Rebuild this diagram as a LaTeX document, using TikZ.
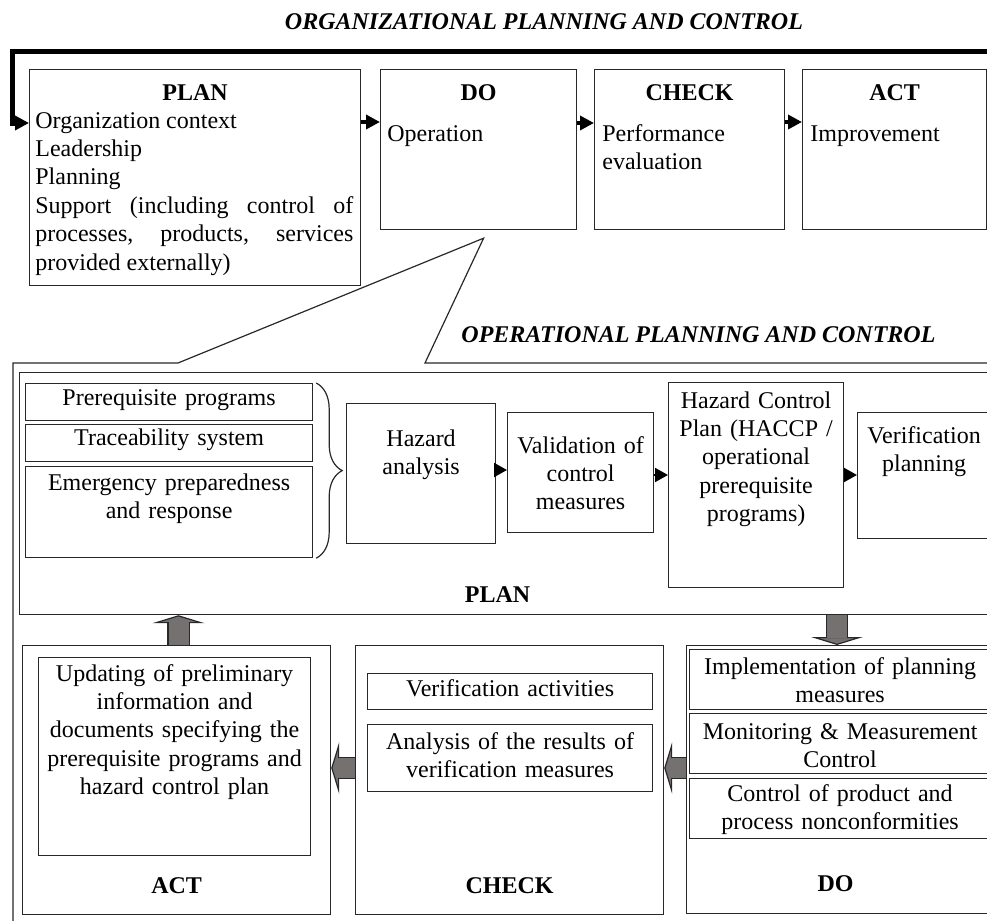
\documentclass[tikz,border=0pt]{standalone}
\usepackage{fontspec}
\setmainfont{Liberation Serif}
\usetikzlibrary{arrows.meta,decorations.pathreplacing}
\definecolor{arrowgray}{RGB}{118,113,113}
\definecolor{edgegray}{RGB}{40,40,40}

\begin{document}
\begin{tikzpicture}[x=0.5pt, y=-0.5pt,
    font=\fontsize{12}{14.2}\selectfont,
    box/.style={draw=edgegray, line width=0.6pt, anchor=north west, inner sep=0pt},
    txt/.style={anchor=base, align=center, text width=170pt, inner sep=0pt},
    lefttxt/.style={anchor=base west, align=left, text width=100pt, inner sep=0pt},
    head/.style={anchor=base, inner sep=0pt, font=\fontsize{12}{14.2}\selectfont\bfseries},
    bigtitle/.style={anchor=base, inner sep=0pt, font=\fontsize{12}{14.2}\selectfont\bfseries\itshape},
    line/.style={draw, line width=2pt, -{Triangle[length=7pt,width=7pt]}},
    thinline/.style={draw, line width=1pt, -{Triangle[length=6.5pt,width=7pt]}},
    loopline/.style={draw, line width=2.5pt, -{Triangle[length=7pt,width=7pt]}},
    zoomframe/.style={draw=edgegray, line width=0.6pt},
    curly/.style={draw=edgegray, line width=0.6pt, decorate, decoration={brace, amplitude=13pt}},
    bigarrow/.style={draw=arrowgray, line width=10pt,
        -{Triangle[length=4pt,width=26pt,line width=0.6pt,color=edgegray,fill=arrowgray]},
        preaction={draw=edgegray, line width=11.2pt, -, shorten >=4pt},
        postaction={draw=arrowgray, line width=10pt, -, shorten >=3.6pt}}]

    \useasboundingbox (0,0) rectangle (987,921);
    \clip (0,0) rectangle (987,921);

    % organizational level
    \node [bigtitle] (orgtitle) at (544,30) {ORGANIZATIONAL PLANNING AND CONTROL};
    \node [box, minimum width=165.5pt, minimum height=108pt] (plan) at (29,69) {};
    \node [box, minimum width=98pt, minimum height=80pt] (do) at (380,69) {};
    \node [box, minimum width=95pt, minimum height=80pt] (check) at (594,69) {};
    \node [box, minimum width=92pt, minimum height=80pt] (act) at (802,69) {};

    \node [head] at ([yshift=-15.5pt]plan.north) {PLAN};
    \node [head] at ([yshift=-15.5pt]do.north) {DO};
    \node [head] at ([yshift=-15.5pt]check.north) {CHECK};
    \node [head] at ([yshift=-15.5pt]act.north) {ACT};
    \node [lefttxt, text width=159pt, align=justify] at ([xshift=3pt,yshift=-29.5pt]plan.north west)
        {Organization context\\Leadership\\Planning\\Support (including control of\linebreak processes, products, services\linebreak provided externally)};
    \node [lefttxt] at ([xshift=3.5pt,yshift=-36pt]do.north west) {Operation};
    \node [lefttxt] at ([xshift=4pt,yshift=-36pt]check.north west) {Performance\\evaluation};
    \node [lefttxt] at ([xshift=4pt,yshift=-36pt]act.north west) {Improvement};

    \path [line] (plan.east |- 0,122) -- (do.west |- 0,122);
    \path [line] (do.east |- 0,123) -- (check.west |- 0,123);
    \path [line] (check.east |- 0,122) -- (act.west |- 0,122);
    \path [loopline] (act.east |- 0,122) -- (1000,122) |- (12.5,51) |- (plan.west |- 0,123);

    % operational level
    \node [bigtitle] (optitle) at (698.5,342) {OPERATIONAL PLANNING AND CONTROL};
    \coordinate (zoomtip) at ([xshift=2.5pt,yshift=-4pt]do.south);
    \draw [zoomframe] (zoomtip) -- (425,363) -- (1000,363) -- (1000,940) -- (13,940) -- (13,363) -- (178,363) -- cycle;
    \node [box, minimum width=488pt, minimum height=121pt] (planarea) at (19,372) {};

    \node [box, minimum width=143.5pt, minimum height=18.5pt] (prereq) at (25,383) {};
    \node [box, minimum width=143.5pt, minimum height=18.5pt] (trace) at (25,424) {};
    \node [box, minimum width=143.5pt, minimum height=45.5pt] (emerg) at (25,466) {};
    \node [box, minimum width=74.5pt, minimum height=70pt] (hazard) at (346,403) {};
    \node [box, minimum width=73pt, minimum height=60pt] (valid) at (507,412) {};
    \node [box, minimum width=87.5pt, minimum height=102.5pt] (hcp) at (668,382) {};
    \node [box, minimum width=66.5pt, minimum height=63pt] (verplan) at (857,412) {};

    \node [txt] at ([yshift=-11pt]prereq.north) {Prerequisite programs};
    \node [txt] at ([yshift=-10.5pt]trace.north) {Traceability system};
    \node [txt] at ([yshift=-12pt]emerg.north) {Emergency preparedness\\and response};
    \node [txt] at ([yshift=-21.5pt]hazard.north) {Hazard\\analysis};
    \node [txt] at ([yshift=-20.5pt]valid.north) {Validation of\\control\\measures};
    \node [txt] at ([yshift=-13pt]hcp.north) {Hazard Control\\Plan (HACCP /\\operational\\prerequisite\\programs)};
    \node [txt] at ([yshift=-15.5pt]verplan.north) {Verification\\planning};
    \node [head] at ([xshift=-5pt,yshift=6.5pt]planarea.south) {PLAN};

    \draw [curly] ([xshift=1.5pt]prereq.north east) -- ([xshift=1.5pt]emerg.south east);
    \path [thinline] (hazard.east |- 0,470) -- (valid.west |- 0,470);
    \path [thinline] (valid.east |- 0,475) -- (hcp.west |- 0,475);
    \path [thinline] (hcp.east |- 0,475) -- (verplan.west |- 0,475);

    \node [box, minimum width=154pt, minimum height=134.5pt] (actbox) at (22,645) {};
    \node [box, minimum width=136pt, minimum height=99pt] (actin) at (38,657) {};
    \node [box, minimum width=154pt, minimum height=134.5pt] (checkbox) at (355,645) {};
    \node [box, minimum width=142.5pt, minimum height=18pt] (verif) at (367,673) {};
    \node [box, minimum width=142.5pt, minimum height=33.5pt] (results) at (367,724) {};
    \node [box, minimum width=152pt, minimum height=134pt] (dobox) at (686,645) {};
    \node [box, minimum width=150.5pt, minimum height=30pt] (impl) at (689,649) {};
    \node [box, minimum width=150.5pt, minimum height=30pt] (monitor) at (689,713) {};
    \node [box, minimum width=150.5pt, minimum height=30pt] (nonconf) at (689,778) {};

    \node [txt] at ([yshift=-12pt]actin.north) {Updating of preliminary\\information and\\documents specifying the\\prerequisite programs and\\hazard control plan};
    \node [head] at ([yshift=11pt]actbox.south) {ACT};
    \node [txt] at ([yshift=-11.5pt]verif.north) {Verification activities};
    \node [txt] at ([yshift=-12.5pt]results.north) {Analysis of the results of\\verification measures};
    \node [head] at ([yshift=11pt]checkbox.south) {CHECK};
    \node [txt] at ([yshift=-12.5pt]impl.north) {Implementation of planning\\measures};
    \node [txt] at ([yshift=-13pt]monitor.north) {Monitoring \& Measurement\\Control};
    \node [txt] at ([yshift=-11.5pt]nonconf.north) {Control of product and\\process nonconformities};
    \node [head] at ([xshift=-1.5pt,yshift=11.5pt]dobox.south) {DO};

    \path [bigarrow] (actbox.north -| 178.5,0) -- (planarea.south -| 178.5,0);
    \path [bigarrow] (planarea.south -| 837,0) -- (dobox.north -| 837,0);
    \path [bigarrow] (dobox.west |- 0,768) -- (checkbox.east |- 0,768);
    \path [bigarrow] (checkbox.west |- 0,768) -- (actbox.east |- 0,768);
\end{tikzpicture}
\end{document}
